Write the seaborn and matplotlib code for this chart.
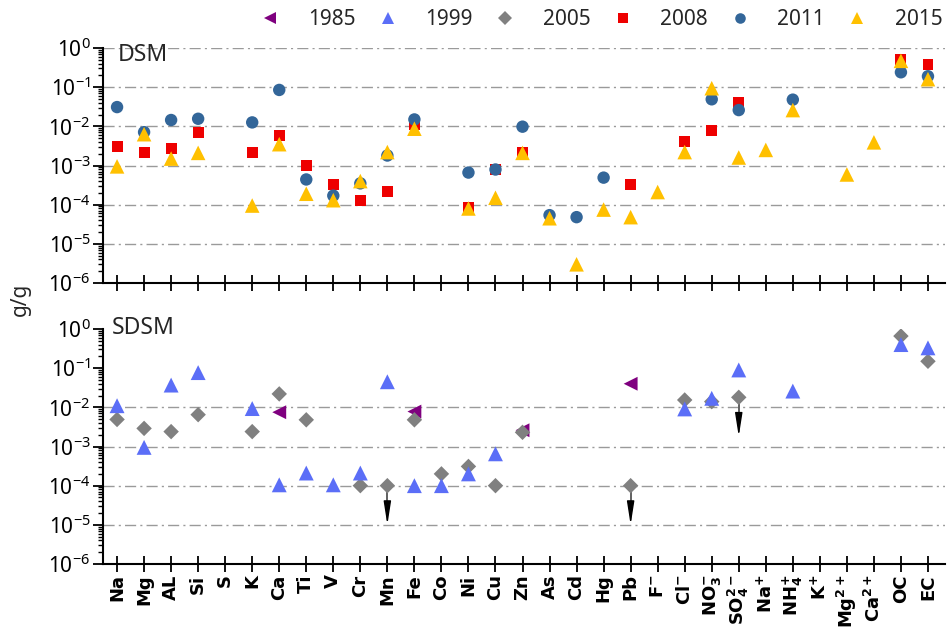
import numpy as np
import pandas as pd
import matplotlib
matplotlib.use("Agg")
import matplotlib.pyplot as plt
from matplotlib.lines import Line2D
from matplotlib.ticker import LogLocator, NullFormatter
import seaborn as sns

nan = np.nan

categories = ['Na', 'Mg', 'AL', 'Si', 'S', 'K', 'Ca', 'Ti', 'V', 'Cr', 'Mn', 'Fe', 'Co', 'Ni',
              'Cu', 'Zn', 'As', 'Cd', 'Hg', 'Pb', r'$\mathbf{F^{-}}$', r'$\mathbf{Cl^{-}}$',
              r'$\mathbf{NO_{3}^{-}}$', r'$\mathbf{SO_{4}^{2-}}$', r'$\mathbf{Na^{+}}$',
              r'$\mathbf{NH_{4}^{+}}$', r'$\mathbf{K^{+}}$', r'$\mathbf{Mg^{2+}}$',
              r'$\mathbf{Ca^{2+}}$', 'OC', 'EC']

# DSM panel
dsm_2008 = [0.003, 0.0022, 0.0027, 0.0069, nan, 0.0022, 0.0059, 0.001, 0.00033, 0.00013,
            0.00022, 0.011, nan, 0.000087, 0.0008, 0.0022, nan, nan, nan, 0.00033, nan,
            0.004, 0.0079, 0.04, nan, nan, nan, nan, nan, 0.52, 0.38]
dsm_2011 = [0.031, 0.0071, 0.0145, 0.0156, nan, 0.0126, 0.085, 0.00044, 0.00017, 0.00035,
            0.0018, 0.015, nan, 0.00066, 0.00079, 0.0098, 0.000054, 0.000048, 0.00049, nan,
            nan, nan, 0.049, 0.026, nan, 0.048, nan, nan, nan, 0.24, 0.19]
dsm_2015 = [0.00095, 0.0063, 0.0015, 0.0021, nan, 0.000095, 0.0035, 0.00019, 0.00013, 0.0004,
            0.0022, 0.0087, nan, 0.00008, 0.00015, 0.0021, 0.000045, 0.000003, 0.000075,
            0.000048, 0.00021, 0.0022, 0.094, 0.0016, 0.0025, 0.026, nan, 0.00059, 0.0039,
            0.47, 0.16]

# SDSM panel
sdsm_1985 = [nan, nan, nan, nan, nan, nan, 0.0075, nan, nan, nan, nan, 0.0078, nan, nan, nan,
             0.0026, nan, nan, nan, 0.04, nan, nan, nan, nan, nan, nan, nan, nan, nan, nan, nan]
sdsm_1999 = [0.011, 0.00095, 0.037, 0.077, nan, 0.0093, 0.000105, 0.00021, 0.000105, 0.00021,
             0.045, 0.0001, 0.0001, 0.0002, 0.00065, nan, nan, nan, nan, nan, nan, 0.0091,
             0.017, 0.09, nan, 0.026, nan, nan, nan, 0.4, 0.33]
sdsm_2005 = [0.0049, 0.0029, 0.0024, 0.0065, nan, 0.0024, 0.022, 0.0048, nan, 0.0001, 0.0001,
             0.0048, 0.0002, 0.00031, 0.0001, 0.0023, nan, nan, nan, 0.0001, nan, 0.0154,
             0.014, 0.018, nan, nan, nan, nan, nan, 0.66, 0.15]
# 2005 values that are upper limits (drawn with a downward arrow of one decade)
sdsm_2005_upper = [10, 19, 23]  # Mn, Pb, SO4 2-

years = ['1985', '1999', '2005', '2008', '2011', '2015']
colors = {'1985': '#7F007F', '1999': '#5B6EF7', '2005': '#808080',
          '2008': '#EE0000', '2011': '#336699', '2015': '#FFC000'}
markers = {'1985': '<', '1999': '^', '2005': 'D', '2008': 's', '2011': 'o', '2015': '^'}
sizes = {'1985': 100, '1999': 115, '2005': 62, '2008': 62, '2011': 80, '2015': 110}

sns.set_theme(style='ticks')
plt.rcParams['font.family'] = ['Noto Sans', 'DejaVu Sans']
plt.rcParams['mathtext.fontset'] = 'custom'
plt.rcParams['mathtext.rm'] = 'Noto Sans'
plt.rcParams['mathtext.bf'] = 'DejaVu Sans:bold'
plt.rcParams['mathtext.default'] = 'regular'

pos = np.arange(len(categories))


def make_df(series):
    rows = []
    for yr, vals in series:
        for p, v in zip(pos, vals):
            if not np.isnan(v):
                rows.append({'x': p, 'y': v, 'year': yr})
    return pd.DataFrame(rows)


fig = plt.figure(figsize=(9.47, 6.3), dpi=100)
ax1 = fig.add_axes([103 / 947, 1 - 283 / 630, 842 / 947, 235 / 630])
ax2 = fig.add_axes([103 / 947, 1 - 564 / 630, 842 / 947, 235 / 630])

df1 = make_df([('2008', dsm_2008), ('2011', dsm_2011), ('2015', dsm_2015)])
df2 = make_df([('1985', sdsm_1985), ('2005', sdsm_2005), ('1999', sdsm_1999)])

for ax, df in [(ax1, df1), (ax2, df2)]:
    yrs = list(dict.fromkeys(df['year']))
    sns.scatterplot(data=df, x='x', y='y', hue='year', style='year', size='year',
                    palette={k: colors[k] for k in yrs},
                    markers={k: markers[k] for k in yrs},
                    sizes={k: sizes[k] for k in yrs},
                    linewidth=0, legend=False, ax=ax, zorder=3)
    ax.set_yscale('log')
    ax.set_ylim(1e-6, 1)
    ax.set_xlim(-0.52, len(categories) - 0.37)
    ax.set_xticks(pos)
    ax.yaxis.set_major_locator(LogLocator(base=10, numticks=10))
    ax.yaxis.set_minor_locator(LogLocator(base=10, subs=np.arange(2, 10), numticks=20))
    ax.yaxis.set_minor_formatter(NullFormatter())
    ax.grid(axis='y', which='major', color='#9a9a9a', linestyle=(0, (8, 3, 1.5, 3)),
            linewidth=1.0, zorder=0)
    for gl in ax.get_ygridlines():
        y = gl.get_ydata()[0]
        if y >= 0.99 or y <= 1.01e-6:
            gl.set_visible(False)
    ax.set_xlabel('')
    ax.set_ylabel('')
    for s in ['top', 'right']:
        ax.spines[s].set_visible(False)
    for s in ['left', 'bottom']:
        ax.spines[s].set_linewidth(1.5)
        ax.spines[s].set_color('black')
    ax.tick_params(axis='x', which='major', direction='inout', length=11, width=1.3,
                   colors='black')
    ax.tick_params(axis='y', which='major', direction='out', length=7, width=1.3,
                   labelsize=15, pad=2, colors='black')
    ax.tick_params(axis='y', which='minor', direction='out', length=3.5, width=1.0,
                   colors='black')
    ax.set_facecolor('white')

ax1.tick_params(axis='x', labelbottom=False)
ax2.tick_params(axis='x', pad=2)
ax2.set_xticklabels(categories, rotation=90, fontsize=13, fontweight='bold',
                    family='DejaVu Sans')

# upper-limit arrows for 2005 SDSM values
for i in sdsm_2005_upper:
    v = sdsm_2005[i]
    ax2.plot([pos[i], pos[i]], [v, v / 10 * 10 ** 0.4], color='#606060', lw=1.4, zorder=2)
    ax2.annotate('', xy=(pos[i], v / 10), xytext=(pos[i], v / 10 * 10 ** 0.5),
                 arrowprops=dict(arrowstyle='-|>,head_length=1.4,head_width=0.22',
                                 color='black', lw=1.0, shrinkA=0, shrinkB=0,
                                 mutation_scale=10), zorder=2)

ax1.text(0.017, 1.02, 'DSM', transform=ax1.transAxes, fontsize=16.5, va='top', ha='left',
         fontweight='medium')
ax2.text(0.011, 1.055, 'SDSM', transform=ax2.transAxes, fontsize=16.5, va='top', ha='left',
         fontweight='medium')

fig.text(0.022, 0.525, 'g/g', rotation=90, fontsize=15, va='center', ha='center')

handles = [Line2D([], [], linestyle='none', marker=markers[y], color=colors[y],
                  markersize=(sizes[y] ** 0.5) * 0.85, markeredgewidth=0)
           for y in years]
fig.legend(handles, years, loc='upper right', bbox_to_anchor=(1.013, 1.012), ncol=6,
           frameon=False, fontsize=15, handlelength=1.0, handletextpad=1.3,
           columnspacing=1.05, borderpad=0.3)

fig.savefig('out.png', dpi=100, facecolor='white')
